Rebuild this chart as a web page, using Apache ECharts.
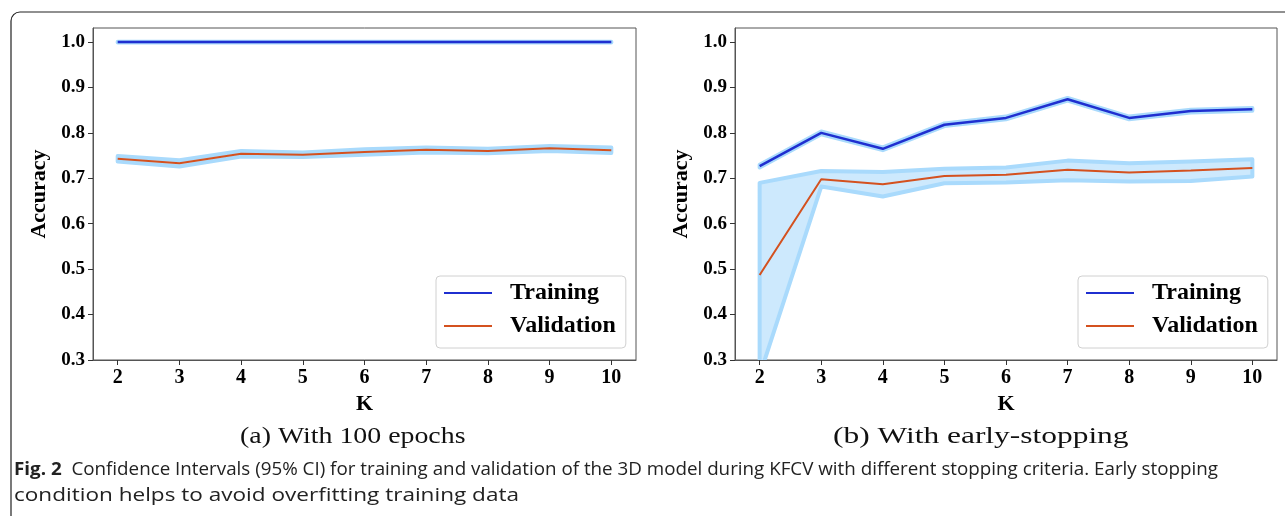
<!DOCTYPE html>
<html>
<head>
<meta charset="utf-8">
<style>
    html, body { margin: 0; padding: 0; background: #fff; }
    #kfcv-chart { width: 1285px; height: 516px; }
    .probe { position: absolute; left: -5000px; top: 0; white-space: pre; }
</style>
<script src="https://cdn.jsdelivr.net/npm/echarts@6/dist/echarts.min.js"></script>
</head>
<body>
<div id="kfcv-chart"></div>
<script>
    // folds K
    var kValues = [2, 3, 4, 5, 6, 7, 8, 9, 10];
    var yTicks = [0.3, 0.4, 0.5, 0.6, 0.7, 0.8, 0.9, 1.0];

    // (a) 100 epochs
    var trainA = [1.0, 1.0, 1.0, 1.0, 1.0, 1.0, 1.0, 1.0, 1.0];
    var trainALow = [0.999, 0.999, 0.999, 0.999, 0.999, 0.999, 0.999, 0.999, 0.999];
    var trainAHigh = [1.001, 1.001, 1.001, 1.001, 1.001, 1.001, 1.001, 1.001, 1.001];
    var validA = [0.743, 0.733, 0.754, 0.752, 0.758, 0.763, 0.760, 0.766, 0.762];
    var validALow = [0.737, 0.726, 0.748, 0.747, 0.752, 0.757, 0.755, 0.760, 0.756];
    var validAHigh = [0.749, 0.740, 0.760, 0.757, 0.764, 0.768, 0.765, 0.771, 0.768];

    // (b) early stopping
    var trainB = [0.727, 0.800, 0.765, 0.818, 0.833, 0.874, 0.833, 0.848, 0.852];
    var trainBLow = [0.724, 0.797, 0.762, 0.815, 0.830, 0.871, 0.830, 0.845, 0.849];
    var trainBHigh = [0.730, 0.803, 0.768, 0.821, 0.836, 0.877, 0.836, 0.851, 0.855];
    var validB = [0.487, 0.698, 0.687, 0.705, 0.708, 0.719, 0.713, 0.717, 0.723];
    var validBLow = [0.266, 0.682, 0.660, 0.689, 0.691, 0.696, 0.693, 0.694, 0.704];
    var validBHigh = [0.690, 0.716, 0.714, 0.721, 0.724, 0.739, 0.733, 0.737, 0.742];

    var captionLine1 = 'Confidence Intervals (95% CI) for training and validation of the 3D model during KFCV with different stopping criteria. Early stopping';
    var captionLine2 = 'condition helps to avoid overfitting training data';

    var blue = '#1f2fd0';
    var orange = '#d4511f';
    var bandFill = '#cde9fd';
    var bandEdge = '#a9dafc';
    var serif = 'Liberation Serif';
    var sans = 'Open Sans';

    function pairs(vals) {
        return kValues.map(function (k, i) { return [k, vals[i]]; });
    }

    // fill_between like band, drawn as one polygon
    function band(idx, low, high) {
        return {
            type: 'custom',
            xAxisIndex: idx,
            yAxisIndex: idx,
            silent: true,
            z: 1,
            data: [0],
            renderItem: function (params, api) {
                var pts = [];
                kValues.forEach(function (k, i) { pts.push(api.coord([k, high[i]])); });
                for (var i = kValues.length - 1; i >= 0; i--) pts.push(api.coord([kValues[i], low[i]]));
                var cs = params.coordSys;
                return {
                    type: 'polygon',
                    shape: { points: pts },
                    style: { fill: bandFill, stroke: bandEdge, lineWidth: 4, lineJoin: 'round' },
                    clipPath: { type: 'rect', shape: { x: cs.x, y: cs.y, width: cs.width, height: cs.height } }
                };
            }
        };
    }

    function line(idx, name, vals, color, width) {
        return {
            type: 'line',
            name: name,
            xAxisIndex: idx,
            yAxisIndex: idx,
            data: pairs(vals),
            symbol: 'none',
            z: 3,
            color: color,
            lineStyle: { color: color, width: width }
        };
    }

    function xAxisOf(idx) {
        return {
            type: 'value',
            gridIndex: idx,
            min: 1.6,
            max: 10.4,
            name: 'K',
            nameLocation: 'middle',
            nameGap: 33,
            nameTextStyle: { fontFamily: serif, fontWeight: 'bold', fontSize: 22, color: '#000' },
            axisLine: { lineStyle: { color: '#555' } },
            axisTick: { customValues: kValues, length: 5, lineStyle: { color: '#333' } },
            axisLabel: { customValues: kValues, fontFamily: serif, fontWeight: 'bold', fontSize: 20, color: '#000', margin: 8 },
            splitLine: { show: false }
        };
    }

    function yAxisOf(idx) {
        return {
            type: 'value',
            gridIndex: idx,
            min: 0.3,
            max: 1.031,
            name: 'Accuracy',
            nameLocation: 'middle',
            nameRotate: 90,
            nameGap: 43,
            nameTextStyle: { fontFamily: serif, fontWeight: 'bold', fontSize: 22, color: '#000' },
            axisLine: { show: true, lineStyle: { color: '#555' } },
            axisTick: { show: true, customValues: yTicks, length: 5, lineStyle: { color: '#333' } },
            axisLabel: {
                customValues: yTicks,
                fontFamily: serif, fontWeight: 'bold', fontSize: 19, color: '#000', margin: 8,
                formatter: function (v) { return v.toFixed(1); }
            },
            splitLine: { show: false }
        };
    }

    function legendOf(left) {
        return {
            data: ['Training', 'Validation'],
            orient: 'vertical',
            left: left,
            top: 276,
            icon: 'rect',
            itemWidth: 48,
            itemHeight: 2,
            itemGap: 9,
            padding: [5, 10, 10, 8],
            backgroundColor: '#fff',
            borderColor: '#d0d0d0',
            borderWidth: 1,
            borderRadius: 4,
            selectedMode: false,
            textStyle: { fontFamily: serif, fontWeight: 'bold', fontSize: 24, color: '#000', padding: [0, 0, 0, 13] }
        };
    }

    // squeeze text so it spans the same width as in the figure (measured in the DOM)
    function textWidth(text, family, size, weight) {
        var s = document.createElement('span');
        s.className = 'probe';
        s.style.fontFamily = '"' + family + '"';
        s.style.fontSize = size + 'px';
        s.style.fontWeight = weight || 'normal';
        s.textContent = text;
        document.body.appendChild(s);
        var w = s.getBoundingClientRect().width;
        document.body.removeChild(s);
        return w;
    }

    var capSize = 18;
    var line1W = textWidth('Fig. 2', sans, capSize, 'bold') + textWidth('  ' + captionLine1, sans, capSize);
    var line1Scale = (1218 - 14) / line1W;
    var line2Scale = (519 - 14) / textWidth(captionLine2, sans, capSize);
    var subSize = 24;
    var subAScale = 225 / textWidth('(a) With 100 epochs', serif, subSize);
    var subBScale = 295 / textWidth('(b) With early-stopping', serif, subSize);

    var myChart = echarts.init(document.getElementById('kfcv-chart'));
    var options = {
        animation: false,
        grid: [
            { left: 93, top: 28, width: 543, height: 332, show: true, borderColor: '#555', borderWidth: 1 },
            { left: 735, top: 28, width: 542, height: 332, show: true, borderColor: '#555', borderWidth: 1 }
        ],
        xAxis: [xAxisOf(0), xAxisOf(1)],
        yAxis: [yAxisOf(0), yAxisOf(1)],
        legend: [legendOf(436), legendOf(1078)],
        series: [
            band(0, trainALow, trainAHigh),
            band(0, validALow, validAHigh),
            line(0, 'Training', trainA, blue, 2.5),
            line(0, 'Validation', validA, orange, 2),
            band(1, trainBLow, trainBHigh),
            band(1, validBLow, validBHigh),
            line(1, 'Training', trainB, blue, 2.5),
            line(1, 'Validation', validB, orange, 2)
        ],
        graphic: [
            {
                type: 'rect',
                silent: true,
                shape: { x: 11, y: 12, width: 1300, height: 530, r: [9, 0, 0, 0] },
                style: { fill: 'none', stroke: '#222', lineWidth: 1.2 }
            },
            {
                type: 'text', x: 240, y: 437, scaleX: subAScale,
                style: { text: '(a) With 100 epochs', fontFamily: serif, fontSize: subSize, fill: '#111', verticalAlign: 'middle' }
            },
            {
                type: 'text', x: 833, y: 437, scaleX: subBScale,
                style: { text: '(b) With early-stopping', fontFamily: serif, fontSize: subSize, fill: '#111', verticalAlign: 'middle' }
            },
            {
                type: 'text', x: 14, y: 470, scaleX: line1Scale,
                style: {
                    text: '{b|Fig. 2}{n|  ' + captionLine1 + '}',
                    fill: '#222', verticalAlign: 'middle',
                    rich: {
                        b: { fontFamily: sans, fontSize: capSize, fontWeight: 'bold', fill: '#222' },
                        n: { fontFamily: sans, fontSize: capSize, fill: '#222' }
                    }
                }
            },
            {
                type: 'text', x: 14, y: 496, scaleX: line2Scale,
                style: { text: captionLine2, fontFamily: sans, fontSize: capSize, fill: '#222', verticalAlign: 'middle' }
            }
        ]
    };
    myChart.setOption(options);
</script>
</body>
</html>
